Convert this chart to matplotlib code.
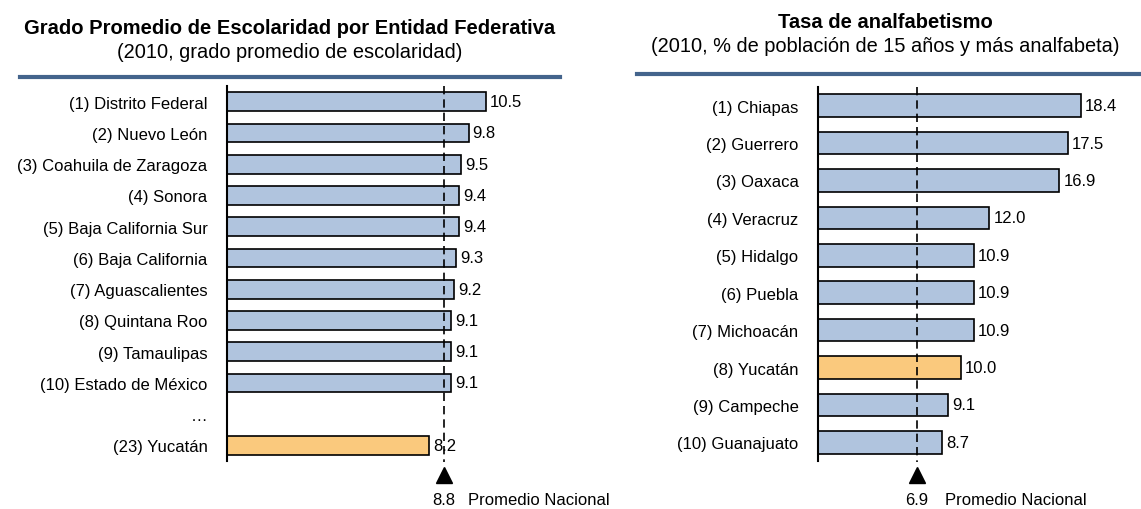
import numpy as np
import matplotlib.pyplot as plt
from matplotlib.transforms import blended_transform_factory

plt.rcParams['font.family'] = ['Liberation Sans', 'DejaVu Sans']

# left panel data
esc_labels = ["(1) Distrito Federal", "(2) Nuevo León", "(3) Coahuila de Zaragoza",
              "(4) Sonora", "(5) Baja California Sur", "(6) Baja California",
              "(7) Aguascalientes", "(8) Quintana Roo", "(9) Tamaulipas",
              "(10) Estado de México", "(23) Yucatán"]
esc_values = [10.5, 9.8, 9.5, 9.4, 9.4, 9.3, 9.2, 9.1, 9.1, 9.1, 8.2]
esc_prom = 8.8

# right panel data
anal_labels = ["(1) Chiapas", "(2) Guerrero", "(3) Oaxaca", "(4) Veracruz",
               "(5) Hidalgo", "(6) Puebla", "(7) Michoacán", "(8) Yucatán",
               "(9) Campeche", "(10) Guanajuato"]
anal_values = [18.4, 17.5, 16.9, 12.0, 10.9, 10.9, 10.9, 10.0, 9.1, 8.7]
anal_prom = 6.9

BLUE = "#b0c4de"
ORANGE = "#fac97d"
LINE = "#44648c"

W, H = 1141, 510
fig = plt.figure(figsize=(W / 100, H / 100), dpi=100)


def px_axes(x0, y0, x1, y1):
    return fig.add_axes([x0 / W, 1 - y1 / H, (x1 - x0) / W, (y1 - y0) / H])


def panel(ax, pos, labels, values, prom, xmax, ymax, tick_pos, tick_labels, txt_dx):
    colors = [ORANGE if "Yucatán" in l else BLUE for l in labels]
    ax.barh(pos, values, height=0.6, color=colors, edgecolor="black", linewidth=1.2, zorder=2)
    for p, v in zip(pos, values):
        ax.annotate(f"{v:.1f}", (v, p), xytext=(4, 0), textcoords="offset pixels",
                    va="center", ha="left", fontsize=12)
    ax.set_xlim(0, xmax)
    ax.set_ylim(ymax, -0.5)
    ax.set_yticks(tick_pos)
    ax.set_yticklabels(tick_labels, fontsize=12)
    ax.tick_params(axis="y", length=0, pad=14)
    ax.set_xticks([])
    for s in ["top", "right", "bottom"]:
        ax.spines[s].set_visible(False)
    ax.spines["left"].set_linewidth(1.5)
    tr = blended_transform_factory(ax.transData, ax.transAxes)
    ax.plot([prom, prom], [1, -0.003], transform=tr, color="black", ls=(0, (5, 3)),
            lw=1.2, clip_on=False, zorder=3)
    ax.plot([prom], [-0.037], transform=tr, marker="^", color="black", ms=11,
            clip_on=False)
    ax.text(prom, -0.104, f"{prom:.1f}", transform=tr, ha="center", va="center", fontsize=12)
    ax.annotate("Promedio Nacional", (prom, -0.104), xycoords=tr,
                xytext=(txt_dx, 0), textcoords="offset pixels",
                ha="left", va="center", fontsize=12)


ax1 = px_axes(227, 87, 560, 462)
pos1 = list(range(10)) + [11]
panel(ax1, pos1, esc_labels, esc_values, esc_prom, 13.5, 11.5,
      list(range(12)), esc_labels[:10] + ["…"] + esc_labels[10:], 24)

ax2 = px_axes(818, 88, 1135, 462)
panel(ax2, list(range(10)), anal_labels, anal_values, anal_prom, 22.2, 9.5,
      list(range(10)), anal_labels, 28)

# titles
fig.text(290 / W, 1 - 28 / H, "Grado Promedio de Escolaridad por Entidad Federativa",
         ha="center", va="center", fontsize=14.5, fontweight="bold")
fig.text(290 / W, 1 - 52 / H, "(2010, grado promedio de escolaridad)",
         ha="center", va="center", fontsize=14.4)
fig.text(885 / W, 1 - 22 / H, "Tasa de analfabetismo",
         ha="center", va="center", fontsize=14.5, fontweight="bold")
fig.text(885 / W, 1 - 46 / H, "(2010, % de población de 15 años y más analfabeta)",
         ha="center", va="center", fontsize=14.4)

fig.add_artist(plt.Line2D([20 / W, 560 / W], [1 - 78 / H] * 2, color=LINE, lw=3))
fig.add_artist(plt.Line2D([637 / W, 1141 / W], [1 - 75 / H] * 2, color=LINE, lw=3))

fig.savefig("out.png", dpi=100)
